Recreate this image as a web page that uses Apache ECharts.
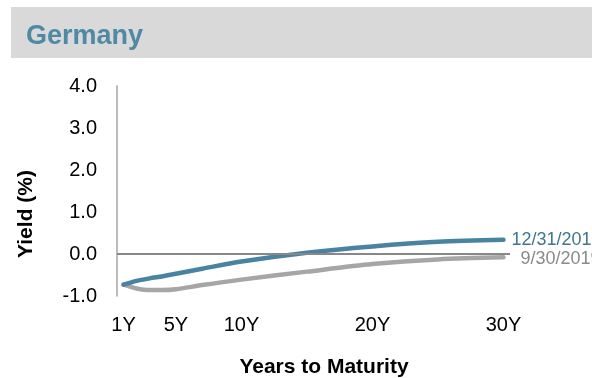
<!DOCTYPE html>
<html>
<head>
<meta charset="utf-8">
<script src="https://cdn.jsdelivr.net/npm/echarts@6/dist/echarts.min.js"></script>
<style>
  html, body { margin: 0; padding: 0; background: #fff; }
  #chart { width: 592px; height: 378px; }
</style>
</head>
<body>
<div id="chart"></div>
<script>
// German government bond yield curve, two quarter-end snapshots
const tenors = [1, 2, 3, 4, 5, 7, 10, 15, 20, 25, 30];
const yieldsDec2019 = [-0.73, -0.64, -0.58, -0.53, -0.47, -0.35, -0.18, 0.03, 0.18, 0.29, 0.34];
const yieldsSep2019 = [-0.73, -0.82, -0.86, -0.86, -0.84, -0.74, -0.61, -0.42, -0.24, -0.13, -0.08];
const seriesNames = ['12/31/2019', '9/30/2019'];
const xTickYears = [1, 5, 10, 20, 30];
const yTicks = [-1, 0, 1, 2, 3, 4];

const FONT = 'Liberation Sans, Arial, sans-serif';
const BLUE = '#4a83a1';
const GREY = '#a6a6a6';

const pairs = (ys) => tenors.map((t, i) => [t, ys[i]]);

const chart = echarts.init(document.getElementById('chart'), null, { renderer: 'canvas' });
chart.setOption({
  animation: false,
  backgroundColor: '#ffffff',
  title: [
    {
      text: 'Germany', left: 26, top: 23, padding: 0,
      textStyle: { fontFamily: FONT, fontSize: 27, fontWeight: 'bold', color: '#4f89a3' }
    },
    {
      text: 'Years to Maturity', left: 324, top: 357, padding: 0, textAlign: 'center',
      textStyle: { fontFamily: FONT, fontSize: 21, fontWeight: 'bold', color: '#000' }
    }
  ],
  graphic: [
    { type: 'rect', z: -10, shape: { x: 11, y: 7, width: 581, height: 51 }, style: { fill: '#d9d9d9' } },
    {
      type: 'text', x: 26, y: 214, rotation: Math.PI / 2,
      style: {
        text: 'Yield (%)', font: 'bold 21px ' + FONT, fill: '#000',
        textAlign: 'center', textVerticalAlign: 'middle'
      }
    }
  ],
  grid: { left: 117, right: 82, top: 86, bottom: 82, containLabel: false },
  xAxis: {
    type: 'value', min: 0.5, max: 30.5, interval: 0.5,
    axisLine: { show: false }, axisTick: { show: false }, splitLine: { show: false },
    axisLabel: {
      margin: 19, fontFamily: FONT, fontSize: 20, color: '#000',
      formatter: (v) => (xTickYears.includes(v) ? v + 'Y' : '')
    }
  },
  yAxis: {
    type: 'value', min: yTicks[0], max: yTicks[yTicks.length - 1], interval: 1,
    axisLine: { show: true, lineStyle: { color: '#a6a6a6', width: 1.5 } },
    axisTick: { show: false }, splitLine: { show: false },
    axisLabel: {
      margin: 20, fontFamily: FONT, fontSize: 20, color: '#000',
      formatter: (v) => v.toFixed(1)
    }
  },
  series: [
    {
      name: seriesNames[1], type: 'line', data: pairs(yieldsSep2019),
      smooth: 0.3, symbol: 'none',
      lineStyle: { color: GREY, width: 4.5, cap: 'round', join: 'round' },
      endLabel: {
        show: true, formatter: seriesNames[1], offset: [9, 2],
        fontFamily: FONT, fontSize: 18, color: '#8a8a8a'
      },
      markLine: {
        silent: true, symbol: ['none', 'none'], label: { show: false },
        lineStyle: { color: '#888888', width: 2, type: 'solid' },
        data: [{ yAxis: 0 }]
      }
    },
    {
      name: seriesNames[0], type: 'line', data: pairs(yieldsDec2019),
      smooth: 0.3, symbol: 'none',
      lineStyle: { color: BLUE, width: 4.5, cap: 'round', join: 'round' },
      endLabel: {
        show: true, formatter: seriesNames[0], offset: [0, 0],
        fontFamily: FONT, fontSize: 18, color: '#3f7694'
      }
    }
  ]
});
</script>
</body>
</html>
